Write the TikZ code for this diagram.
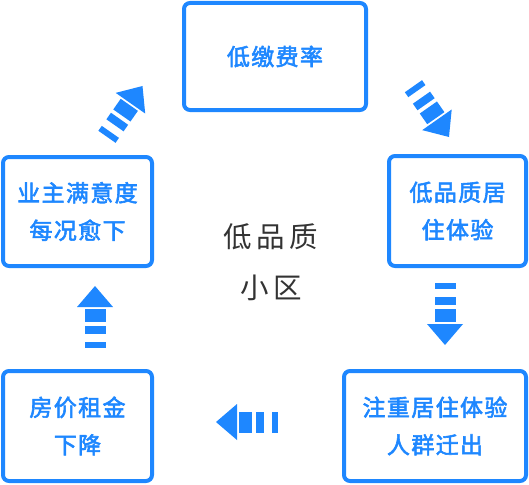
\documentclass[tikz,border=0pt]{standalone}
\usepackage{fontspec}
\newfontfamily\boxfont[LetterSpace=6,FakeBold=2.5]{Noto Sans CJK SC}
\newfontfamily\midfont[LetterSpace=15]{Noto Sans CJK SC}
\definecolor{myblue}{RGB}{30,135,255}
\definecolor{mygray}{RGB}{51,51,51}
\tikzset{
  stepbox/.style={draw=myblue, line width=4pt, rounded corners=6pt, inner sep=0pt,
    align=center, text=myblue, font=\boxfont\fontsize{23}{37.5}\selectfont},
  fatarrow/.pic={
    \fill[myblue] (0,0) -- (-21,18) -- (-21,-18) -- cycle;
    \fill[myblue] (-36,-10.5) rectangle (-23,10.5);
    \fill[myblue] (-48,-10.5) rectangle (-40,10.5);
    \fill[myblue] (-62,-10.5) rectangle (-56,10.5);
  }
}
\begin{document}
\begin{tikzpicture}[x=1pt,y=-1pt]
\useasboundingbox (0,0) rectangle (529,484);
\node[stepbox, minimum width=182pt, minimum height=107pt] (b1) at (275,56.5) {低缴费率};
\node[stepbox, minimum width=137pt, minimum height=110pt] (b2) at (457.5,211) {低品质居\\住体验};
\node[stepbox, minimum width=182pt, minimum height=110pt] (b3) at (435,426) {注重居住体验\\人群迁出};
\node[stepbox, minimum width=149pt, minimum height=110pt] (b4) at (77.5,426) {房价租金\\下降};
\node[stepbox, minimum width=149pt, minimum height=109pt] (b5) at (77.5,211.5) {业主满意度\\每况愈下};
\node[align=center, text=mygray, font=\midfont\fontsize{28.5}{51}\selectfont] (mid) at (271,262) {低品质\\小区};
\coordinate (a1) at (142.5,86);
\coordinate (a2) at (449,137);
\coordinate (a3) at (445,345);
\coordinate (a4) at (216,422);
\coordinate (a5) at (95,286);
\pic[shift={(a1)}, rotate=55] {fatarrow};
\pic[shift={(a2)}, rotate=-55] {fatarrow};
\pic[shift={(a3)}, rotate=-90] {fatarrow};
\pic[shift={(a4)}, rotate=180] {fatarrow};
\pic[shift={(a5)}, rotate=90] {fatarrow};
\end{tikzpicture}
\end{document}
